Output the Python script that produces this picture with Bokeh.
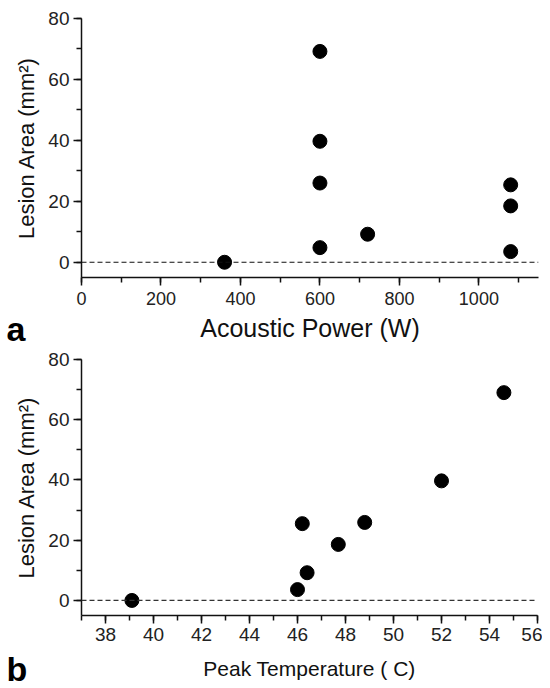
from bokeh.plotting import figure
from bokeh.layouts import column
from bokeh.models import Span, SingleIntervalTicker, Range1d, GridBox
from bokeh.core.properties import value
from bokeh.embed import file_html
from bokeh.resources import INLINE

# Panel a: lesion area vs acoustic power
power_w = [360, 600, 600, 600, 600, 720, 1080, 1080, 1080]
area_a = [0.0, 69.2, 39.7, 26.0, 4.8, 9.2, 25.4, 18.5, 3.5]

# Panel b: lesion area vs peak temperature
peak_temp = [39.1, 46.0, 46.2, 46.4, 47.7, 48.8, 52.0, 54.6]
area_b = [0.0, 3.6, 25.5, 9.2, 18.6, 25.9, 39.7, 69.0]

# Panel letters
panel_letters = ["a", "b"]

FONT = "Liberation Sans"


def style(p, xfs, yfs, xlfs, ylfs):
    p.outline_line_color = None
    p.xgrid.visible = False
    p.ygrid.visible = False
    p.background_fill_color = "white"
    for ax, fs, lfs in ((p.xaxis[0], xfs, xlfs), (p.yaxis[0], yfs, ylfs)):
        ax.axis_line_color = "#111111"
        ax.axis_line_width = 1.5
        ax.major_tick_line_color = "#111111"
        ax.major_tick_line_width = 1.5
        ax.minor_tick_line_color = "#111111"
        ax.minor_tick_line_width = 1.5
        ax.major_tick_in = 0
        ax.major_tick_out = 8
        ax.minor_tick_in = 0
        ax.minor_tick_out = 5
        ax.major_label_text_font = FONT
        ax.major_label_text_font_size = f"{fs}px"
        ax.major_label_text_color = "#222222"
        ax.axis_label_text_font = FONT
        ax.axis_label_text_font_style = "normal"
        ax.axis_label_text_font_size = f"{lfs}px"
        ax.axis_label_text_color = "#111111"
    p.xaxis.major_label_standoff = 6
    p.yaxis.major_label_standoff = 4
    p.xaxis.axis_label_standoff = 6
    p.yaxis.axis_label_standoff = 6


# ---- panel a
p1 = figure(frame_width=457, frame_height=259, output_backend="svg", toolbar_location=None,
            x_range=Range1d(0, 1150), y_range=Range1d(-5, 80),
            min_border_left=81, min_border_right=4, min_border_top=18, min_border_bottom=72)
p1.xaxis.ticker = SingleIntervalTicker(interval=200, num_minor_ticks=2)
p1.yaxis.ticker = SingleIntervalTicker(interval=20, num_minor_ticks=2)
p1.xaxis.axis_label = "Acoustic Power (W)"
p1.yaxis.axis_label = "Lesion Area (mm²)"
style(p1, 18, 19, 25, 22)
p1.add_layout(Span(location=0, dimension="width", line_color="#111111", line_width=1.2,
                   line_dash="5 3"))
p1.scatter(power_w, area_a, size=14, color="black")

# ---- panel b
p2 = figure(frame_width=456, frame_height=256, output_backend="svg", toolbar_location=None,
            x_range=Range1d(37, 56), y_range=Range1d(-5, 80),
            min_border_left=81, min_border_right=5, min_border_top=10, min_border_bottom=73)
p2.xaxis.ticker = SingleIntervalTicker(interval=2, num_minor_ticks=2)
p2.yaxis.ticker = SingleIntervalTicker(interval=20, num_minor_ticks=2)
p2.xaxis.axis_label = "Peak Temperature ( C)"
p2.yaxis.axis_label = "Lesion Area (mm²)"
style(p2, 19, 19, 21, 22)
p2.xaxis.major_label_standoff = 4
p2.xaxis.axis_label_standoff = 13
p2.add_layout(Span(location=0, dimension="width", line_color="#333333", line_width=1.2,
                   line_dash="5 3"))
p2.scatter(peak_temp, area_b, size=14, color="black")

# ---- transparent overlay carrying the panel letters (pixel coordinates)
W, H = 542, 688
ov = figure(width=W, height=H, output_backend="svg", toolbar_location=None,
            x_range=Range1d(0, W), y_range=Range1d(H, 0),
            x_axis_type=None, y_axis_type=None,
            min_border_left=0, min_border_right=0, min_border_top=0, min_border_bottom=0,
            background_fill_alpha=0, border_fill_alpha=0)
ov.outline_line_color = None
ov.text(x=[6, 6], y=[328, 668], text=panel_letters, text_font=value(FONT),
        text_font_style="bold", text_font_size="34px", text_color="black",
        text_baseline="alphabetic", text_align="left")

panels = column(p1, p2, spacing=0)
layout = GridBox(children=[(panels, 0, 0), (column(ov), 0, 0)], spacing=0)
open("out.html", "w").write(file_html(layout, INLINE))
